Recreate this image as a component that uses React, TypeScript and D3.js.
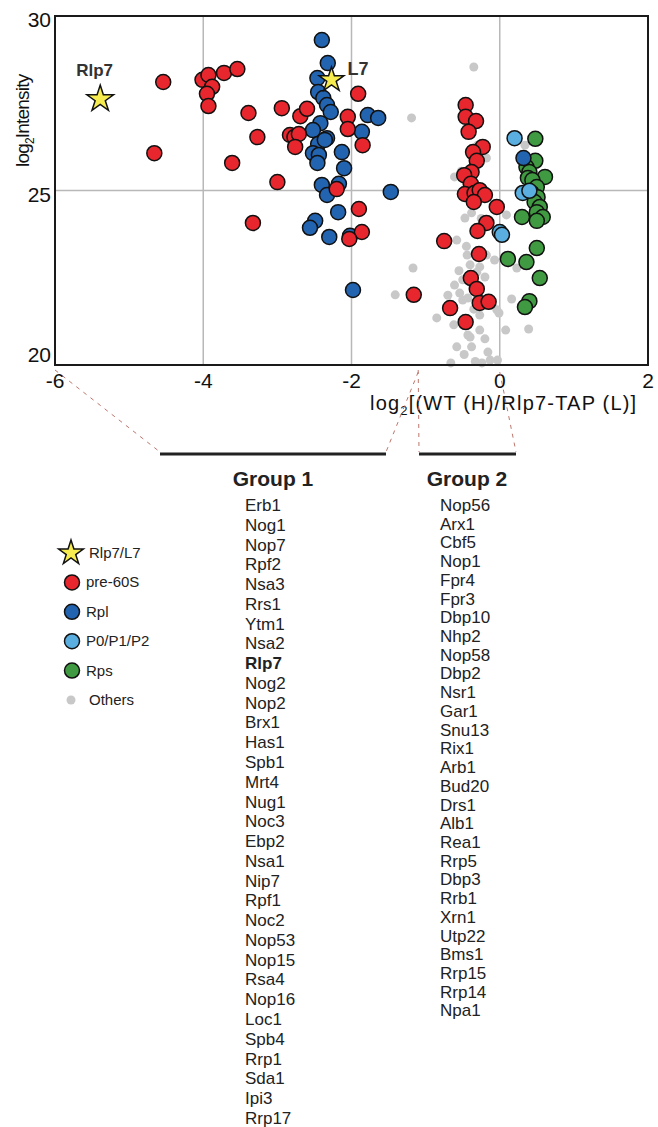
import React from "react";
import * as d3 from "d3";

const WIDTH = 658;
const HEIGHT = 1127;
const PLOT = { left: 55, right: 648, top: 16, bottom: 365 };
const FONT = "Liberation Sans, Arial, sans-serif";

const xTicks = [-6, -4, -2, 0, 2];
const yTicks = [20, 25, 30];
const xGrid = [-4, -2, 0];
const yGrid = [25];

// stars: Rlp7 bait and its L7 paralog
const stars = [
  { name: "Rlp7", x: -5.39, y: 27.62 },
  { name: "L7", x: -2.27, y: 28.17 },
];

const preRibo: [number, number][] = [
  [-4.54, 28.11], [-4.66, 26.07], [-4.01, 28.17], [-3.93, 28.31], [-3.88, 27.97],
  [-3.95, 27.77], [-3.93, 27.42], [-3.72, 28.37], [-3.54, 28.48], [-3.39, 27.22],
  [-2.94, 27.36], [-2.69, 27.13], [-2.6, 27.34], [-3.27, 26.53], [-2.83, 26.59],
  [-2.77, 26.53], [-2.71, 26.62], [-2.76, 26.25], [-3.61, 25.79], [-3.0, 25.24],
  [-1.91, 27.77], [-2.05, 27.11], [-2.05, 26.76], [-1.85, 26.3], [-2.2, 25.04],
  [-3.33, 24.07], [-1.9, 24.47], [-1.86, 23.81], [-2.03, 23.61], [-1.16, 22.01],
  [-0.46, 27.45], [-0.46, 27.11], [-0.32, 26.99], [-0.42, 26.68], [-0.23, 26.25],
  [-0.36, 26.1], [-0.31, 25.85], [-0.38, 25.53], [-0.48, 25.44], [-0.39, 25.19],
  [-0.47, 24.9], [-0.34, 24.93], [-0.27, 25.01], [-0.2, 24.87], [-0.35, 24.67],
  [-0.04, 24.53], [-0.18, 24.07], [-0.3, 23.84], [-0.75, 23.55], [-0.28, 23.18],
  [-0.39, 22.49], [-0.31, 22.18], [-0.27, 21.78], [-0.15, 21.81], [-0.67, 21.63],
  [-0.46, 21.23],
];

const rpl: [number, number][] = [
  [-2.4, 29.31], [-2.32, 28.65], [-2.46, 28.22], [-2.45, 27.82], [-2.38, 27.65],
  [-2.33, 27.45], [-2.28, 27.25], [-2.42, 26.93], [-2.52, 26.73], [-2.33, 26.5],
  [-2.45, 26.33], [-2.36, 26.45], [-2.52, 26.07], [-2.44, 26.02], [-2.46, 25.79],
  [-2.13, 26.1], [-2.1, 25.64], [-1.78, 27.16], [-1.64, 27.08], [-1.86, 26.68],
  [-2.4, 25.16], [-2.33, 24.87], [-2.17, 25.19], [-1.47, 24.96], [-2.18, 24.38],
  [-2.49, 24.13], [-2.56, 23.93], [-2.3, 23.67], [-2.02, 23.7], [-1.98, 22.15],
  [0.32, 25.93],
];

const p0p1p2: [number, number][] = [
  [0.2, 26.5], [0.31, 24.93], [0.4, 24.99], [0.0, 23.81], [0.03, 23.73],
];

const rps: [number, number][] = [
  [0.48, 26.48], [0.48, 25.85], [0.36, 25.67], [0.4, 25.53], [0.61, 25.39],
  [0.38, 25.36], [0.44, 25.3], [0.5, 25.1], [0.43, 24.93], [0.51, 24.81],
  [0.47, 24.67], [0.54, 24.53], [0.5, 24.38], [0.3, 24.24], [0.58, 24.24],
  [0.5, 24.13], [0.5, 23.35], [0.36, 22.95], [0.11, 23.04], [0.54, 22.49],
  [0.4, 21.83], [0.34, 21.66],
];

const others: [number, number][] = [
  [-0.35, 28.54], [-1.19, 27.08], [-0.61, 25.39], [-0.18, 25.93], [0.34, 26.3],
  [-0.47, 24.21], [-0.38, 24.36], [0.09, 24.3], [-0.58, 23.58], [-0.44, 23.15],
  [-0.18, 23.15], [-0.07, 23.01], [0.23, 22.78], [-1.17, 22.78], [-0.4, 22.87],
  [-0.27, 22.81], [-1.41, 22.01], [-0.85, 21.35], [-0.54, 22.06], [-0.2, 22.52],
  [-0.5, 22.44], [0.16, 21.89], [-0.01, 21.49], [-0.27, 21.43], [-0.43, 20.86],
  [-0.58, 20.52], [-0.38, 20.52], [-0.16, 20.37], [0.08, 21.0], [0.39, 21.03],
  [-0.66, 20.06], [-0.24, 20.06], [-0.03, 20.14], [-0.5, 21.86], [-0.31, 22.66],
  [-0.61, 22.29], [-0.31, 22.23], [-0.04, 21.58], [-0.27, 21.0], [-0.4, 20.8],
  [-0.13, 20.14], [-0.43, 21.92], [-0.45, 25.2], [-0.25, 24.2], [-0.3, 26.3],
  [-0.52, 25.55], [-0.55, 22.7], [-0.45, 23.4], [-0.35, 21.6], [-0.62, 21.15],
  [-0.2, 20.75], [-0.48, 20.3], [-0.33, 20.1], [-0.7, 22.0],
];

const group1 = [
  "Erb1", "Nog1", "Nop7", "Rpf2", "Nsa3", "Rrs1", "Ytm1", "Nsa2", "Rlp7", "Nog2",
  "Nop2", "Brx1", "Has1", "Spb1", "Mrt4", "Nug1", "Noc3", "Ebp2", "Nsa1", "Nip7",
  "Rpf1", "Noc2", "Nop53", "Nop15", "Rsa4", "Nop16", "Loc1", "Spb4", "Rrp1", "Sda1",
  "Ipi3", "Rrp17",
];
const group2 = [
  "Nop56", "Arx1", "Cbf5", "Nop1", "Fpr4", "Fpr3", "Dbp10", "Nhp2", "Nop58", "Dbp2",
  "Nsr1", "Gar1", "Snu13", "Rix1", "Arb1", "Bud20", "Drs1", "Alb1", "Rea1", "Rrp5",
  "Dbp3", "Rrb1", "Xrn1", "Utp22", "Bms1", "Rrp15", "Rrp14", "Npa1",
];
// x-ranges on the plot each group is drawn out of
const groupFrom = [-6, -1.1];
const groupTo = [-1.1, 0];

const COLORS = {
  star: "#f7ec4f",
  pre: "#e8262d",
  rpl: "#2364b0",
  p0: "#5aafe0",
  rps: "#3f9a41",
  other: "#c8c8c8",
};

const legendItems = [
  { label: "Rlp7/L7", kind: "star", color: COLORS.star },
  { label: "pre-60S", kind: "circle", color: COLORS.pre },
  { label: "Rpl", kind: "circle", color: COLORS.rpl },
  { label: "P0/P1/P2", kind: "circle", color: COLORS.p0 },
  { label: "Rps", kind: "circle", color: COLORS.rps },
  { label: "Others", kind: "dot", color: COLORS.other },
];

const starPath = (r: number) =>
  d3.symbol().type(d3.symbolStar).size((r * r) / 0.8908130915)() as string;

export default function App() {
  const x = d3.scaleLinear().domain([-6, 2]).range([PLOT.left, PLOT.right]);
  const y = d3.scaleLinear().domain([20, 30]).range([PLOT.bottom, PLOT.top]);

  const circles = (data: [number, number][], fill: string, r: number, stroke: boolean) =>
    data.map((d, i) => (
      <circle
        key={i}
        cx={x(d[0])}
        cy={y(d[1])}
        r={r}
        fill={fill}
        stroke={stroke ? "#111" : "none"}
        strokeWidth={1.5}
      />
    ));

  const barY = 454;
  const barX = [
    [160, 386],
    [419, 516],
  ];

  return (
    <div style={{ position: "absolute", left: 0, top: 0 }}>
      <svg width={WIDTH} height={HEIGHT} style={{ display: "block", fontFamily: FONT }}>
        <rect width={WIDTH} height={HEIGHT} fill="#fff" />

        {/* grid */}
        {xGrid.map((t) => (
          <line key={t} x1={x(t)} x2={x(t)} y1={PLOT.top} y2={PLOT.bottom} stroke="#b8b8b8" strokeWidth={1.5} />
        ))}
        {yGrid.map((t) => (
          <line key={t} x1={PLOT.left} x2={PLOT.right} y1={y(t)} y2={y(t)} stroke="#b8b8b8" strokeWidth={1.5} />
        ))}

        {/* points */}
        <g>{circles(others, COLORS.other, 4.5, false)}</g>
        <g>{circles(rps, COLORS.rps, 7.5, true)}</g>
        <g>{circles(rpl, COLORS.rpl, 7.5, true)}</g>
        <g>{circles(p0p1p2, COLORS.p0, 7.5, true)}</g>
        <g>{circles(preRibo, COLORS.pre, 7.5, true)}</g>
        {stars.map((s, i) => (
          <path
            key={s.name}
            d={starPath(i === 0 ? 14 : 13)}
            transform={`translate(${x(s.x)},${y(s.y)})`}
            fill={COLORS.star}
            stroke="#111"
            strokeWidth={1.5}
          />
        ))}
        <text x={x(stars[0].x) - 24} y={y(stars[0].y) - 23} fontSize={17} fontWeight="bold" fill="#333">
          Rlp7
        </text>
        <text x={x(stars[1].x) + 16} y={y(stars[1].y) - 5} fontSize={18} fontWeight="bold" fill="#333">
          L7
        </text>

        {/* frame */}
        <rect
          x={PLOT.left}
          y={PLOT.top}
          width={PLOT.right - PLOT.left}
          height={PLOT.bottom - PLOT.top}
          fill="none"
          stroke="#1a1a1a"
          strokeWidth={2}
        />

        {/* ticks */}
        {yTicks.map((t, i) => (
          <text key={t} x={PLOT.left - 4} y={y(t) + (i === 0 ? -3 : 11)} textAnchor="end" fontSize={21} fill="#111">
            {t}
          </text>
        ))}
        {xTicks.map((t) => (
          <text key={t} x={x(t)} y={388} textAnchor="middle" fontSize={21} fill="#111">
            {t}
          </text>
        ))}

        {/* axis labels */}
        <text x={370} y={410} fontSize={20} letterSpacing={1.2} fill="#111">
          log<tspan fontSize={13} dy={5}>2</tspan>
          <tspan dy={-5}>[(WT (H)/Rlp7-TAP (L)]</tspan>
        </text>
        <text transform="rotate(-90)" x={-167} y={29} fontSize={19} letterSpacing={-0.8} fill="#111">
          log<tspan fontSize={12} dy={5}>2</tspan>
          <tspan dy={-5}>Intensity</tspan>
        </text>

        {/* zoom guides */}
        {groupFrom.map((f, i) => (
          <g key={i} stroke="#b4685c" strokeWidth={0.9} strokeDasharray="4 5" fill="none">
            <line x1={x(f)} y1={370} x2={barX[i][0]} y2={barY - 2} />
            <line x1={x(groupTo[i])} y1={372} x2={barX[i][1]} y2={barY - 2} />
          </g>
        ))}

        {/* group bars and lists */}
        {[group1, group2].map((names, gi) => {
          const [a, b] = barX[gi];
          const step = gi === 0 ? 19.77 : 18.72;
          const listX = gi === 0 ? 245 : 440;
          return (
            <g key={gi}>
              <line x1={a} x2={b} y1={barY} y2={barY} stroke="#222" strokeWidth={3} />
              <text x={gi === 0 ? 273 : 467} y={486} textAnchor="middle" fontSize={21} fontWeight="bold" fill="#222">
                {`Group ${gi + 1}`}
              </text>
              {names.map((n, i) => (
                <text
                  key={n}
                  x={listX}
                  y={511 + i * step}
                  fontSize={17}
                  fontWeight={n === "Rlp7" ? "bold" : "normal"}
                  fill="#222"
                >
                  {n}
                </text>
              ))}
            </g>
          );
        })}

        {/* legend */}
        {legendItems.map((d, i) => {
          const cy = 553 + i * 29.4;
          return (
            <g key={d.label}>
              {d.kind === "star" && (
                <path d={starPath(13)} transform={`translate(71,${cy})`} fill={d.color} stroke="#111" strokeWidth={1.5} />
              )}
              {d.kind === "circle" && <circle cx={72} cy={cy} r={7.5} fill={d.color} stroke="#111" strokeWidth={1.5} />}
              {d.kind === "dot" && <circle cx={71} cy={cy} r={4.5} fill={d.color} />}
              <text x={d.kind === "circle" ? 86 : 89} y={cy + 5} fontSize={15} fill="#222">
                {d.label}
              </text>
            </g>
          );
        })}
      </svg>
    </div>
  );
}
